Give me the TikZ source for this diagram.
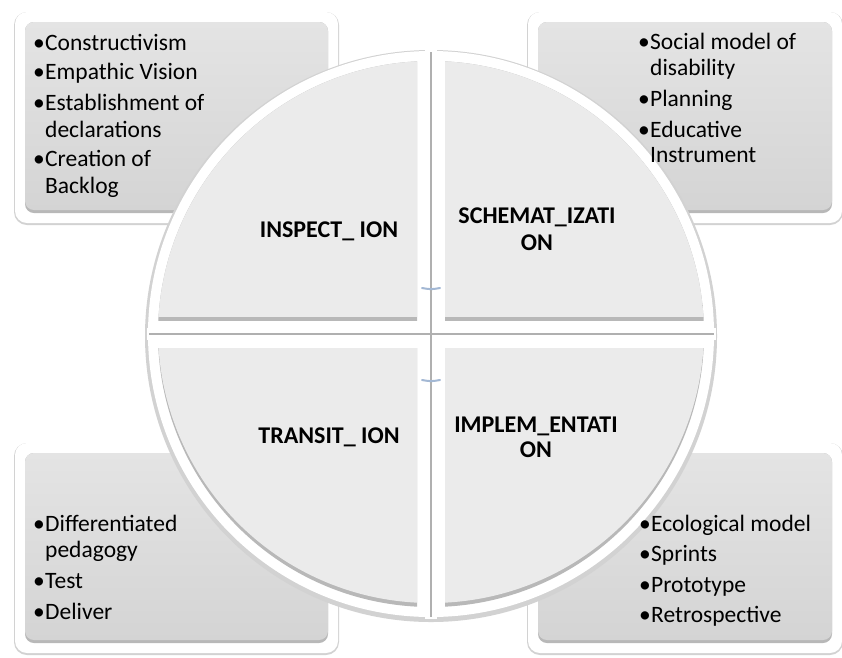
\documentclass[tikz,border=0pt]{standalone}
\usepackage{fontspec}
\setmainfont{Carlito}
\definecolor{quadgray}{HTML}{EBEBEB}
\definecolor{boxtop}{HTML}{E4E4E4}
\definecolor{boxbot}{HTML}{D4D4D4}
\definecolor{bevel}{HTML}{B8B8B8}
\definecolor{rimshadow}{HTML}{D2D2D2}
\definecolor{gapgray}{HTML}{B0B0B0}
\definecolor{markblue}{HTML}{A3B8D4}
\newcommand\panelbox[4]{%
  \fill[rimshadow, rounded corners=13pt] ({#1-11},{#2-10}) rectangle ({#3+11},{#4+12});
  \fill[white, rounded corners=12pt] ({#1-10},{#2-10}) rectangle ({#3+10},{#4+10});
  \fill[bevel, rounded corners=9pt] (#1,#2) rectangle (#3,#4);
  \shade[top color=boxtop, bottom color=boxbot, rounded corners=9pt] (#1,#2) rectangle ({#3},{#4-3});
}
\newcommand\quadpiece[2]{%
  \begin{scope}
    \clip ({431+2*#1},{334+2*#2}) rectangle ({431+300*#1},{334+300*#2});
    \fill[white] (431,334) circle (283);
  \end{scope}
  \begin{scope}
    \clip ({431+14*#1},{334+14*#2}) rectangle ({431+300*#1},{334+300*#2});
    \clip (431,334) circle (273);
    \fill[bevel] (0,0) rectangle (842,657);
    \begin{scope}
      \clip ({431+14*#1},{330+14*#2}) rectangle ({431+300*#1},{330+300*#2});
      \fill[quadgray] (431,330) circle (273);
    \end{scope}
  \end{scope}
}
\begin{document}
\begin{tikzpicture}[x=1pt,y=-1pt,
  itm/.style={anchor=base west, inner sep=0pt, font=\fontsize{23.5}{27}\selectfont},
  bul/.style={anchor=base, inner sep=0pt, font=\fontsize{23.5}{27}\selectfont},
  lbl/.style={anchor=base, inner sep=0pt, font=\bfseries\fontsize{24}{27}\selectfont}]
\useasboundingbox (0,0) rectangle (842,657);
\fill[white] (0,0) rectangle (842,657);
% side panels
\panelbox{25}{22}{328}{213}
\panelbox{538}{22}{832}{213}
\panelbox{25}{453}{328}{643}
\panelbox{538}{453}{832}{643}
% circle base and gaps
\fill[rimshadow] (431,336) circle (286);
\fill[white] (425,50) rectangle (437,619);
\fill[white] (147,328) rectangle (716,340);
\fill[gapgray] (429.8,52) rectangle (432.2,617);
\fill[gapgray] (149,332.8) rectangle (714,335.2);
\quadpiece{-1}{-1}
\quadpiece{1}{-1}
\quadpiece{-1}{1}
\quadpiece{1}{1}
% small marks
\draw[markblue, line width=2pt, line cap=round] (422,288) .. controls (431,289.5) .. (440,288);
\draw[markblue, line width=2pt, line cap=round] (422,380) .. controls (431,381.5) .. (440,380);
% top-left texts
\node[bul] (b11) at (39,50) {•};
\node[itm] (t11) at (45,50) {Constructivism};
\node[bul] (b12) at (39,79) {•};
\node[itm] (t12) at (45,79) {Empathic Vision};
\node[bul] (b13) at (39,110) {•};
\node[itm] (t13) at (45,110) {Establishment of};
\node[itm] (t13b) at (45,137) {declarations};
\node[bul] (b14) at (39,166) {•};
\node[itm] (t14) at (45,166) {Creation of};
\node[itm] (t14b) at (45,193) {Backlog};
% top-right texts
\node[bul] (b21) at (644,49) {•};
\node[itm] (t21) at (650,49) {Social model of};
\node[itm] (t21b) at (650,75) {disability};
\node[bul] (b22) at (644,106) {•};
\node[itm] (t22) at (650,106) {Planning};
\node[bul] (b23) at (644,137) {•};
\node[itm] (t23) at (650,137) {Educative};
\node[itm] (t23b) at (650,162) {Instrument};
% bottom-left texts
\node[bul] (b31) at (39,531) {•};
\node[itm] (t31) at (45,531) {Differentiated};
\node[itm] (t31b) at (45,557) {pedagogy};
\node[bul] (b32) at (39,588) {•};
\node[itm] (t32) at (45,588) {Test};
\node[bul] (b33) at (39,619) {•};
\node[itm] (t33) at (45,619) {Deliver};
% bottom-right texts
\node[bul] (b41) at (645,531) {•};
\node[itm] (t41) at (651,531) {Ecological model};
\node[bul] (b42) at (645,561) {•};
\node[itm] (t42) at (651,561) {Sprints};
\node[bul] (b43) at (645,592) {•};
\node[itm] (t43) at (651,592) {Prototype};
\node[bul] (b44) at (645,622) {•};
\node[itm] (t44) at (651,622) {Retrospective};
% quadrant labels
\node[lbl] (q1) at (329,237) {INSPECT\_ ION};
\node[lbl] (q2) at (537,223) {SCHEMAT\_IZATI};
\node[lbl] (q2b) at (537,250) {ON};
\node[lbl] (q3) at (329,443) {TRANSIT\_ ION};
\node[lbl] (q4) at (536,432) {IMPLEM\_ENTATI};
\node[lbl] (q4b) at (536,457) {ON};
\end{tikzpicture}
\end{document}
